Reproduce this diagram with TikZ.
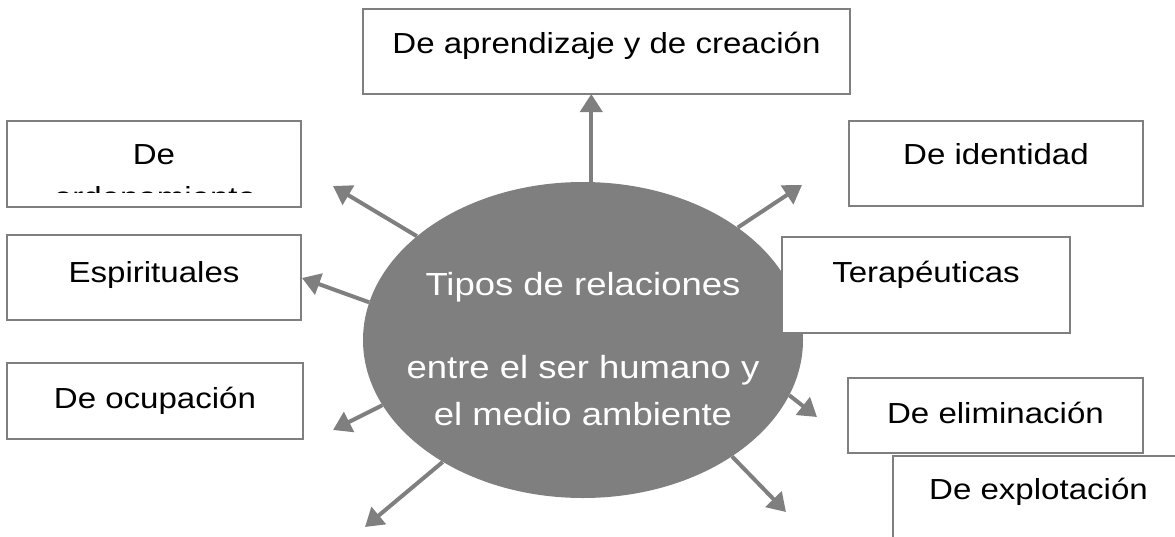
\documentclass[tikz,border=0pt]{standalone}
\usepackage{fontspec}
\setmainfont{Liberation Sans}[FakeStretch=1.14]
\usepackage{tikz}
\usetikzlibrary{shapes.geometric,arrows.meta}
\definecolor{relgray}{RGB}{127,127,127}
\begin{document}
\begin{tikzpicture}
[
  x=1pt, y=-1pt,
  caja/.style     = {shape=rectangle, draw=relgray, line width=2pt, fill=white,
                     anchor=north west, inner xsep=0pt, inner ysep=0pt, outer sep=0pt,
                     font=\fontsize{29}{35}\selectfont},
  centro/.style   = {shape=ellipse, fill=relgray, inner sep=0pt,
                     minimum width=440pt, minimum height=316pt},
  midtext/.style  = {anchor=base, text=white, inner sep=0pt,
                     font=\fontsize{32}{38}\selectfont},
  flecha/.style   = {draw=relgray, line width=4pt,
                     -{Triangle[length=18pt,width=22pt]}}
]
\useasboundingbox (0,0) rectangle (1175,536);
\clip (0,0) rectangle (1175,536);

% centro
\node [centro] (ell) at (583,340) {};
\node [midtext] (tipos) at (583,295) {Tipos de relaciones};
\node [midtext] (entre) at (583,378) {entre el ser humano y};
\node [midtext] (medio) at (583,425) {el medio ambiente};

% cajas
\node [caja, minimum width=487pt, text height=44pt, text depth=41pt]
  (aprend) at (363,9) {De aprendizaje y de creación};
\node [caja, minimum width=294pt, text height=43pt, text depth=43pt]
  (orden) at (7,121) {De};
\begin{scope}
  \clip (7,121) rectangle (301,192.5);
  \node [anchor=base, inner sep=0pt, font=\fontsize{29}{35}\selectfont]
    (ordenB) at (155,207) {ordenamiento};
\end{scope}
\node [caja, minimum width=294pt, text height=43pt, text depth=42pt]
  (ident) at (849,121) {De identidad};
\node [caja, minimum width=294pt, text height=47pt, text depth=38pt]
  (espir) at (7,235) {Espirituales};
\node [caja, minimum width=288pt, text height=45pt, text depth=51pt]
  (terap) at (782,237) {Terapéuticas};
\node [caja, minimum width=296pt, text height=45pt, text depth=31pt]
  (ocup) at (7,363) {De ocupación};
\node [caja, minimum width=291pt, text height=43pt, text depth=42pt]
  (explot) at (893,456) {De explotación};
\node [caja, minimum width=295pt, text height=45pt, text depth=30pt]
  (elim) at (848,378) {De eliminación};

% puntas libres
\coordinate (pOrden) at (333,186);
\coordinate (pEspir) at (302,278);
\coordinate (pOcup)  at (333,430);
\coordinate (pAbIzq) at (365,527);
\coordinate (pIdent) at (802,185);
\coordinate (pElim)  at (817,417);
\coordinate (pAbDer) at (786,512);

% flechas
\draw [flecha] (ell.87) -- (ell.87 |- aprend.south);
\draw [flecha] (ell.148) -- (pOrden);
\draw [flecha] (ell.170) -- (pEspir);
\draw [flecha] (ell.198) -- (pOcup);
\draw [flecha] (ell.221) -- (pAbIzq);
\draw [flecha] (ell.36)  -- (pIdent);
\draw [flecha] (ell.345) -- (pElim);
\draw [flecha] (ell.322) -- (pAbDer);
\end{tikzpicture}
\end{document}
